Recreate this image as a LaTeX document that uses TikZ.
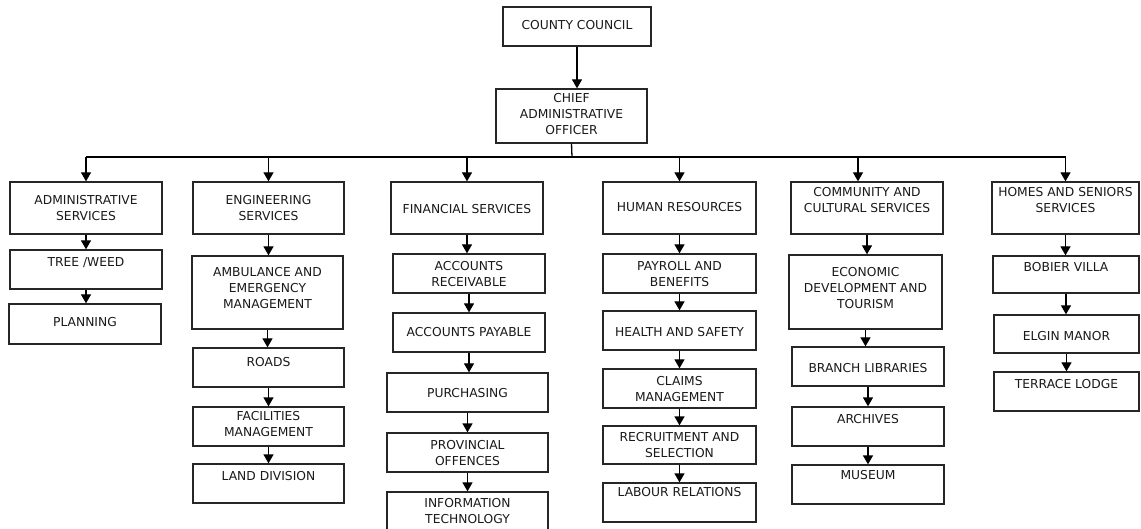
\documentclass[tikz,border=0pt]{standalone}
\usepackage{fontspec}
\setmainfont{DejaVu Sans}
\usetikzlibrary{arrows.meta}
\tikzset{
  ln/.style={line width=1.3pt, draw=black},
  arr/.style={ln, -{Triangle[length=9pt,width=10pt]}},
  boxst/.style={draw=black!85, line width=1.3pt, inner sep=0pt, rectangle},
  txt/.style={align=center, inner sep=0pt, font=\fontsize{12.3}{16}\selectfont, text=black!90}
}
\newcommand{\bx}[7]{%
  \node[boxst, minimum width={(#4-#2)*1pt}, minimum height={(#5-#3)*1pt}] (#1) at ({(#2+#4)/2},{(#3+#5)/2}) {};
  \node[txt] (#1t) at ({(#2+#4)/2},#6) {#7};
}
\begin{document}
\begin{tikzpicture}[x=1pt,y=-1pt]
\useasboundingbox (0,0) rectangle (1141,529);
\bx{cc}{503}{7}{651}{46}{25}{COUNTY COUNCIL}
\bx{cao}{496}{89}{647}{143}{114}{CHIEF\\ADMINISTRATIVE\\OFFICER}
\bx{adm}{10}{182}{162}{234}{208}{ADMINISTRATIVE\\SERVICES}
\bx{tree}{10}{250}{162}{289}{263}{TREE /WEED}
\bx{plan}{9}{304}{161}{344}{322}{PLANNING}
\bx{eng}{193}{182}{344}{234}{208}{ENGINEERING\\SERVICES}
\bx{amb}{192}{256}{343}{329}{288}{AMBULANCE AND\\EMERGENCY\\MANAGEMENT}
\bx{roads}{193}{348}{344}{387}{362}{ROADS}
\bx{fac}{193}{407}{344}{446}{424.5}{FACILITIES\\MANAGEMENT}
\bx{land}{193}{464}{344}{503}{476}{LAND DIVISION}
\bx{fin}{391}{182}{543}{234}{209}{FINANCIAL SERVICES}
\bx{acr}{393}{254}{545}{293}{274.5}{ACCOUNTS\\RECEIVABLE}
\bx{acp}{393}{313}{545}{352}{332}{ACCOUNTS PAYABLE}
\bx{pur}{387}{373}{548}{412}{393}{PURCHASING}
\bx{prov}{387}{433}{548}{472}{453.5}{PROVINCIAL\\OFFENCES}
\bx{it}{387}{492}{548}{536}{511}{INFORMATION\\TECHNOLOGY}
\bx{hr}{603}{182}{756}{234}{207}{HUMAN RESOURCES}
\bx{pay}{603}{254}{756}{293}{274.5}{PAYROLL AND\\BENEFITS}
\bx{hs}{603}{311}{756}{350}{332}{HEALTH AND SAFETY}
\bx{cl}{603}{369}{756}{408}{389.5}{CLAIMS\\MANAGEMENT}
\bx{rec}{603}{426}{756}{464}{445}{RECRUITMENT AND\\SELECTION}
\bx{lab}{603}{483}{756}{522}{492}{LABOUR RELATIONS}
\bx{com}{791}{182}{943}{234}{200}{COMMUNITY AND\\CULTURAL SERVICES}
\bx{eco}{789}{255}{942}{329}{288}{ECONOMIC\\DEVELOPMENT AND\\TOURISM}
\bx{br}{792}{347}{944}{386}{368}{BRANCH LIBRARIES}
\bx{arc}{792}{407}{944}{446}{419}{ARCHIVES}
\bx{mus}{792}{465}{944}{504}{475}{MUSEUM}
\bx{hom}{992}{182}{1139}{234}{200}{HOMES AND SENIORS\\SERVICES}
\bx{bob}{993}{256}{1139}{293}{267}{BOBIER VILLA}
\bx{elg}{994}{315}{1139}{353}{336}{ELGIN MANOR}
\bx{ter}{994}{372}{1139}{411}{384}{TERRACE LODGE}
% top connectors
\draw[arr] (cc.south) -- (cc.south |- cao.north);
\coordinate (bar) at (572,157);
\draw[ln] (cao.south) -- (bar);
\draw[ln] (adm.north |- bar) -- (hom.north |- bar);
\foreach \n in {adm,eng,fin,hr,hom}
  \draw[arr] (\n.north |- bar) -- (\n.north);
\draw[arr] ([xshift=-9pt]com.north |- bar) -- ([xshift=-9pt]com.north);
% column connectors
\foreach \a/\b in {adm/tree,tree/plan,eng/amb,amb/roads,roads/fac,fac/land,
  fin/acr,acr/acp,acp/pur,pur/prov,prov/it,hr/pay,pay/hs,hs/cl,cl/rec,rec/lab,
  com/eco,eco/br,br/arc,arc/mus,hom/bob,bob/elg,elg/ter}
  \draw[arr] (\a.south) -- (\a.south |- \b.north);
\end{tikzpicture}
\end{document}
